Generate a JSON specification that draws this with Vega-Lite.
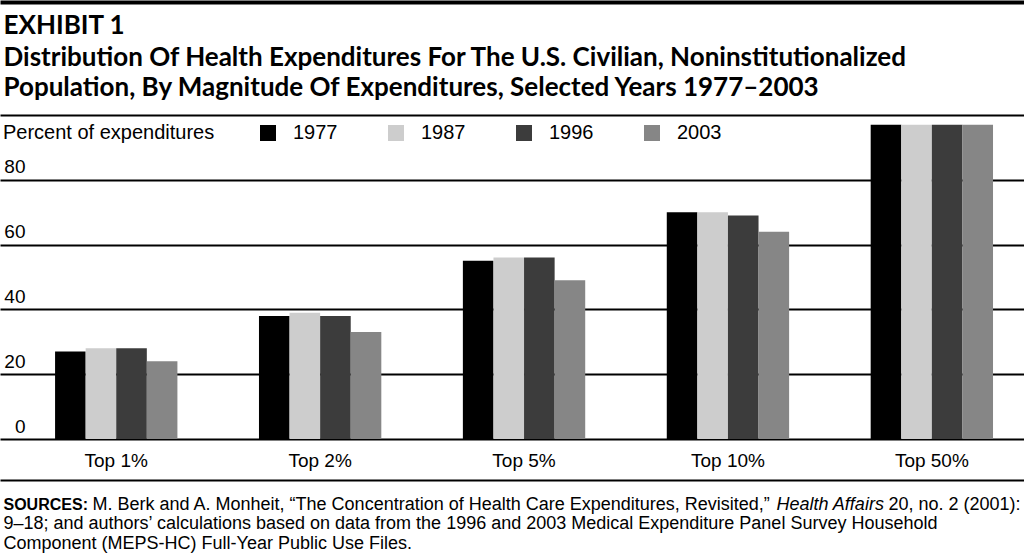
{
  "$schema": "https://vega.github.io/schema/vega-lite/v6.json",
  "width": 1024,
  "height": 324,
  "autosize": {"type": "none"},
  "padding": {"left": 0, "top": 115, "right": 0, "bottom": 119},
  "background": "white",
  "config": {"view": {"stroke": null}, "font": "Liberation Sans"},
  "data": {"values": [
    {"group": "Top 1%", "year": "1977", "value": 27},
    {"group": "Top 1%", "year": "1987", "value": 28},
    {"group": "Top 1%", "year": "1996", "value": 28},
    {"group": "Top 1%", "year": "2003", "value": 24},
    {"group": "Top 2%", "year": "1977", "value": 38},
    {"group": "Top 2%", "year": "1987", "value": 39},
    {"group": "Top 2%", "year": "1996", "value": 38},
    {"group": "Top 2%", "year": "2003", "value": 33},
    {"group": "Top 5%", "year": "1977", "value": 55},
    {"group": "Top 5%", "year": "1987", "value": 56},
    {"group": "Top 5%", "year": "1996", "value": 56},
    {"group": "Top 5%", "year": "2003", "value": 49},
    {"group": "Top 10%", "year": "1977", "value": 70},
    {"group": "Top 10%", "year": "1987", "value": 70},
    {"group": "Top 10%", "year": "1996", "value": 69},
    {"group": "Top 10%", "year": "2003", "value": 64},
    {"group": "Top 50%", "year": "1977", "value": 97},
    {"group": "Top 50%", "year": "1987", "value": 97},
    {"group": "Top 50%", "year": "1996", "value": 97},
    {"group": "Top 50%", "year": "2003", "value": 97}
  ]},
  "layer": [
    {
      "mark": {"type": "bar"},
      "encoding": {
        "x": {
          "field": "group", "type": "nominal", "sort": null,
          "scale": {"paddingInner": 0.4, "paddingOuter": 0.211, "align": 0.64},
          "axis": {
            "orient": "bottom", "offset": 41, "domain": true, "domainColor": "black", "domainWidth": 2,
            "ticks": false, "tickSize": 0, "labelPadding": -14, "labelBaseline": "alphabetic",
            "labelFontSize": 19, "labelColor": "black", "labelAngle": 0,
            "title": "M. Berk and A. Monheit, “The Concentration of Health Care Expenditures, Revisited,”",
            "titleFont": "Liberation Sans", "titleFontSize": 18, "titleFontWeight": "normal", "titleColor": "black",
            "titleX": 92, "titleY": 29, "titleAlign": "left", "titleBaseline": "alphabetic", "titleLimit": 1000
          }
        },
        "xOffset": {"field": "year", "type": "nominal", "scale": {"paddingInner": 0, "paddingOuter": 0}},
        "y": {
          "field": "value", "type": "quantitative",
          "scale": {"domain": [0, 100], "nice": false},
          "axis": {
            "orient": "left", "values": [0, 20, 40, 60, 80, 100], "domain": false, "ticks": false, "tickSize": 0,
            "grid": true, "gridColor": "black", "gridWidth": 2, "gridOpacity": 1,
            "labelExpr": "datum.value == 100 ? '' : datum.label",
            "labelAlign": "right", "labelPadding": -25, "labelBaseline": "alphabetic", "labelOffset": -7,
            "labelFontSize": 19, "labelColor": "black",
            "title": "SOURCES:", "titleFont": "Liberation Sans", "titleFontSize": 16, "titleFontWeight": "bold", "titleColor": "black",
            "titleAngle": 0, "titleX": 3, "titleY": 394, "titleAlign": "left", "titleBaseline": "alphabetic"
          }
        },
        "color": {
          "field": "year", "type": "nominal",
          "scale": {"domain": ["1977", "1987", "1996", "2003"], "range": ["#000000", "#cdcdcd", "#3c3c3c", "#868686"]},
          "legend": {
            "orient": "none", "legendX": 3, "legendY": 8, "direction": "horizontal", "columns": 4,
            "title": "Percent of expenditures", "titleOrient": "left", "titlePadding": 43, "titleLimit": 400,
            "titleFontSize": 20, "titleFontWeight": "normal", "titleColor": "black", "titleFont": "Liberation Sans",
            "symbolType": "square", "symbolSize": 256, "symbolStrokeWidth": 0, "symbolOpacity": 1,
            "labelFontSize": 20, "labelColor": "black", "labelOffset": 15, "columnPadding": 48, "padding": 0
          }
        }
      }
    },
    {
      "mark": {"type": "bar", "opacity": 0},
      "encoding": {
        "x": {
          "field": "group", "type": "nominal", "sort": null,
          "axis": {
            "orient": "top", "offset": 113, "domain": true, "domainColor": "black", "domainWidth": 4,
            "labels": false, "ticks": false, "grid": false,
            "title": "Health Affairs", "titleFont": "Liberation Sans", "titleFontSize": 18, "titleFontWeight": "normal", "titleFontStyle": "italic", "titleColor": "black",
            "titleX": 776, "titleY": 507, "titleAlign": "left", "titleBaseline": "alphabetic"
          }
        },
        "y": {
          "field": "value", "type": "quantitative",
          "scale": {"domain": [0, 100], "nice": false},
          "axis": {
            "orient": "right", "domain": false, "labels": false, "ticks": false, "grid": false,
            "title": "20, no. 2 (2001):", "titleFont": "Liberation Sans", "titleFontSize": 18, "titleFontWeight": "normal", "titleColor": "black",
            "titleAngle": 0, "titleX": -136, "titleY": 394, "titleAlign": "left", "titleBaseline": "alphabetic"
          }
        }
      }
    },
    {
      "mark": {"type": "bar", "opacity": 0},
      "encoding": {
        "x": {
          "field": "group", "type": "nominal", "sort": null,
          "axis": {
            "orient": "top", "offset": 0, "domain": false, "labels": false, "ticks": false, "grid": false,
            "title": "EXHIBIT 1", "titleFont": "Lato", "titleFontSize": 26, "titleFontWeight": "bold", "titleColor": "black",
            "titleX": 3, "titleY": -82, "titleAlign": "left", "titleBaseline": "alphabetic"
          }
        },
        "y": {
          "field": "value", "type": "quantitative",
          "scale": {"domain": [0, 100], "nice": false},
          "axis": {
            "orient": "left", "domain": false, "labels": false, "ticks": false, "grid": false,
            "title": ["9–18; and authors’ calculations based on data from the 1996 and 2003 Medical Expenditure Panel Survey Household", "Component (MEPS-HC) Full-Year Public Use Files."],
            "titleFont": "Liberation Sans", "titleFontSize": 18, "titleFontWeight": "normal", "titleColor": "black",
            "titleAngle": 0, "titleX": 3, "titleY": 413.5, "titleAlign": "left", "titleBaseline": "alphabetic", "titleLineHeight": 19.5, "titleLimit": 1100
          }
        }
      }
    },
    {
      "mark": {"type": "bar", "opacity": 0},
      "encoding": {
        "x": {
          "field": "group", "type": "nominal", "sort": null,
          "axis": {
            "orient": "top", "offset": 0, "domain": false, "labels": false, "ticks": false, "grid": false,
            "title": ["Distribution Of Health Expenditures For The U.S. Civilian, Noninstitutionalized", "Population, By Magnitude Of Expenditures, Selected Years 1977–2003"],
            "titleFont": "Lato", "titleFontSize": 26, "titleFontWeight": "bold", "titleColor": "black",
            "titleX": 3, "titleY": -50, "titleAlign": "left", "titleBaseline": "alphabetic", "titleLineHeight": 30, "titleLimit": 1100
          }
        },
        "y": {
          "field": "value", "type": "quantitative",
          "scale": {"domain": [0, 100], "nice": false},
          "axis": null
        }
      }
    }
  ],
  "resolve": {"scale": {"x": "independent", "y": "independent"}, "axis": {"x": "independent", "y": "independent"}}
}
